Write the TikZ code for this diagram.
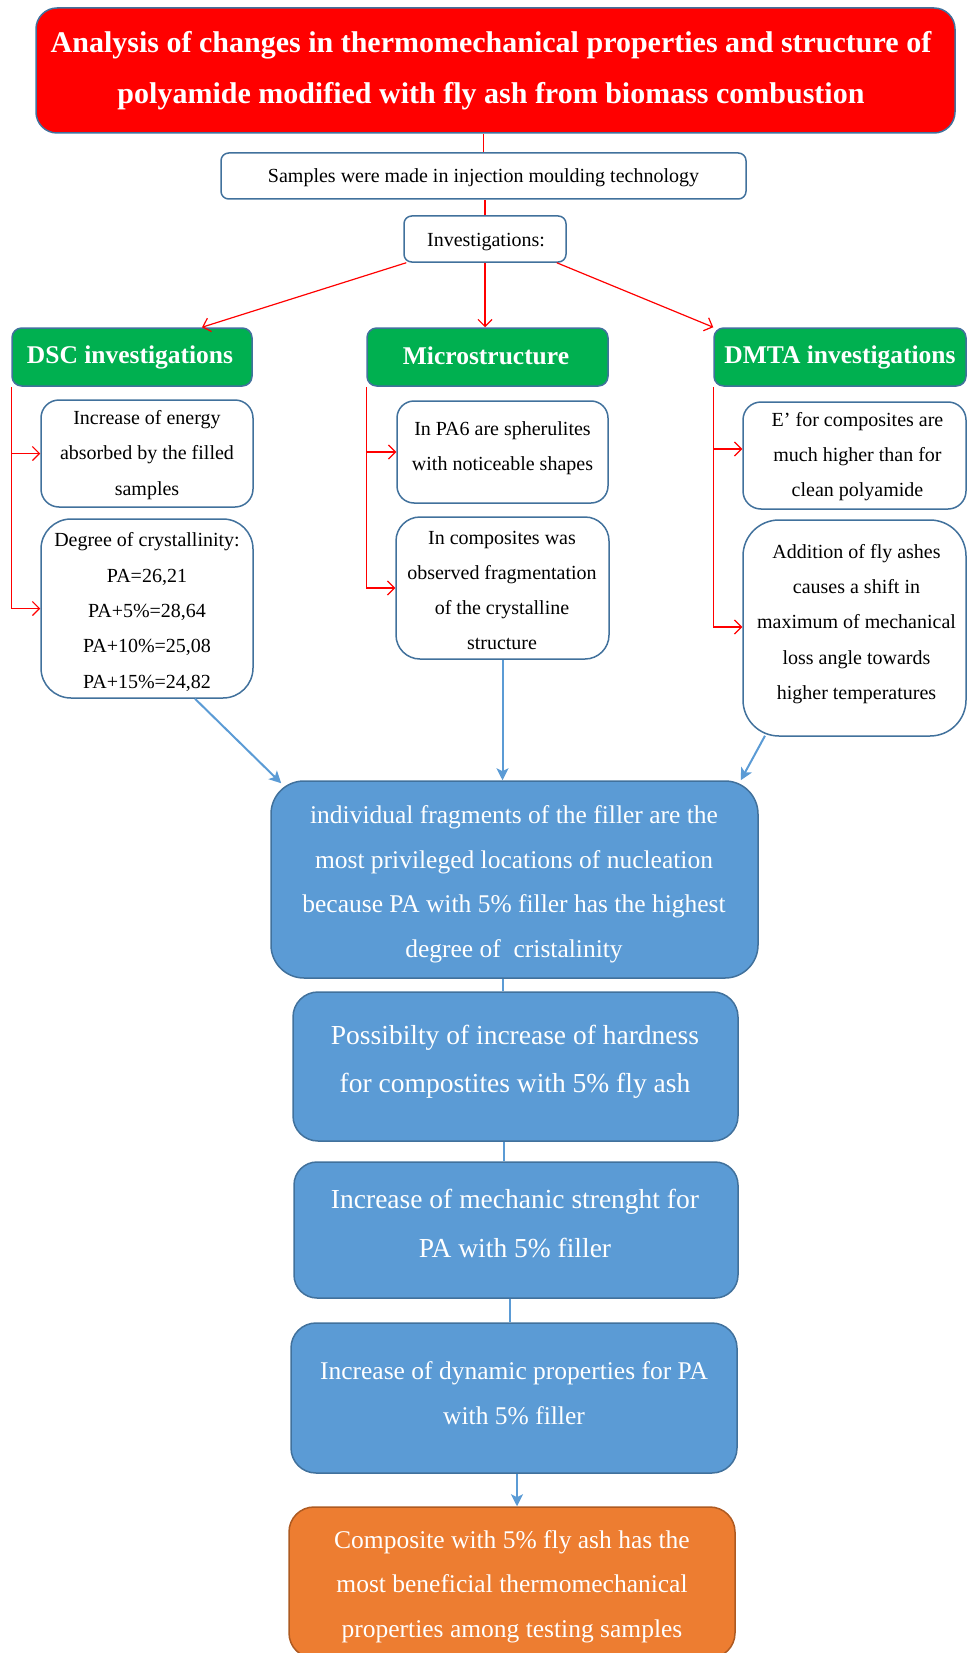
\documentclass[tikz,border=0pt]{standalone}
\usepackage{fontspec}
\setmainfont{Liberation Serif}
\usetikzlibrary{arrows.meta}
\definecolor{bordblue}{HTML}{41719C}
\definecolor{fillblue}{HTML}{5B9BD5}
\definecolor{grn}{HTML}{00B050}
\definecolor{org}{HTML}{ED7D31}
\definecolor{orgborder}{HTML}{AE5A21}
\definecolor{redc}{HTML}{FF0000}
\tikzset{
  box/.style={draw=bordblue, line width=1.5pt, inner sep=0pt},
  whitebox/.style={box, fill=white},
  greenbox/.style={box, fill=grn},
  bluebox/.style={box, fill=fillblue},
  sz/.style 2 args={minimum width=#1pt, minimum height=#2pt},
  rc/.style={rounded corners=#1pt},
  titletxt/.style={align=center, inner sep=0pt, text=white, font=\bfseries\fontsize{30}{51}\selectfont},
  headtxt/.style={align=center, inner sep=0pt, text=white, font=\bfseries\fontsize{25.5}{30}\selectfont},
  smalltxt/.style={align=center, inner sep=0pt, font=\fontsize{20}{35.3}\selectfont},
  bluetxt/.style={align=center, inner sep=0pt, text=white, font=\fontsize{25.5}{44.5}\selectfont},
  bigbluetxt/.style={align=center, inner sep=0pt, text=white, font=\fontsize{27.5}{48.5}\selectfont},
  redline/.style={draw=redc, line width=1.2pt},
  redarrow/.style={redline, -{Straight Barb[length=7pt,width=14pt]}},
  blueline/.style={draw=fillblue, line width=2pt},
  bluearrow/.style={blueline, -{Stealth[length=12pt,width=12pt,inset=3pt]}}
}
\begin{document}
\begin{tikzpicture}[x=1pt,y=-1pt]
\useasboundingbox (0,0) rectangle (967,1653);

% title
\node[box, fill=redc, rc=21, sz={919}{125}] (title) at (495.5,70.5) {};
\node[titletxt] (titleT) at (491,71) {Analysis of changes in thermomechanical properties and structure of\\polyamide modified with fly ash from biomass combustion};

% samples / investigations
\node[whitebox, rc=7.7, sz={525}{46}] (samples) at (483.5,176) {};
\node[smalltxt] (samplesT) at (483.5,178) {Samples were made in injection moulding technology};
\node[whitebox, rc=7.7, sz={162}{46}] (invest) at (485,239) {};
\node[smalltxt] (investT) at (486,242) {Investigations:};

% green headers
\node[greenbox, rc=9.7, sz={240}{58}] (dsc) at (132,357) {};
\node[headtxt] (dscT) at (130,357) {DSC investigations};
\node[greenbox, rc=9.7, sz={241}{58}] (micro) at (487.5,357) {};
\node[headtxt] (microT) at (486,356) {Microstructure};
\node[greenbox, rc=9.7, sz={252}{58}] (dmta) at (840,357) {};
\node[headtxt] (dmtaT) at (840,357) {DMTA investigations};

% DSC column
\node[whitebox, rc=18, sz={212}{107}] (dsc1) at (147,453.5) {};
\node[smalltxt] (dsc1T) at (147,455) {Increase of energy\\absorbed by the filled\\samples};
\node[whitebox, rc=30, sz={212}{179}] (dsc2) at (147,608.5) {};
\node[smalltxt] (dsc2T) at (147,612) {Degree of crystallinity:\\PA=26,21\\PA+5\%=28,64\\PA+10\%=25,08\\PA+15\%=24,82};

% Microstructure column
\node[whitebox, rc=17, sz={211}{102}] (mic1) at (502.5,452) {};
\node[smalltxt] (mic1T) at (502.5,448) {In PA6 are spherulites\\with noticeable shapes};
\node[whitebox, rc=24, sz={213}{142}] (mic2) at (502.5,588) {};
\node[smalltxt] (mic2T) at (502,590.5) {In composites was\\observed fragmentation\\of the crystalline\\structure};

% DMTA column
\node[whitebox, rc=18, sz={223}{107}] (dmta1) at (854.5,455.5) {};
\node[smalltxt] (dmta1T) at (857.5,456.5) {E’ for composites are\\much higher than for\\clean polyamide};
\node[whitebox, rc=36, sz={223}{216}] (dmta2) at (854.5,628) {};
\node[smalltxt] (dmta2T) at (856.5,624) {Addition of fly ashes\\causes a shift in\\maximum of mechanical\\loss angle towards\\higher temperatures};

% blue chain
\node[bluebox, rc=33, sz={487}{197}] (blue1) at (514.5,879.5) {};
\node[bluetxt] (blue1T) at (514,884.5) {individual fragments of the filler are the\\most privileged locations of nucleation\\because PA with 5\% filler has the highest\\degree of~ cristalinity};
\node[bluebox, rc=25, sz={445}{149}] (blue2) at (515.5,1066.5) {};
\node[bigbluetxt] (blue2T) at (515,1062) {Possibilty of increase of hardness\\for compostites with 5\% fly ash};
\node[bluebox, rc=23, sz={444}{136}] (blue3) at (516,1230) {};
\node[bigbluetxt] (blue3T) at (515,1223.5) {Increase of mechanic strenght for\\PA with 5\% filler};
\node[bluebox, rc=25, sz={446}{150}] (blue4) at (514,1398) {};
\node[bluetxt, font=\fontsize{25.5}{45}\selectfont] (blue4T) at (514,1393.5) {Increase of dynamic properties for PA\\with 5\% filler};
\node[box, draw=orgborder, fill=org, rc=25, sz={446}{151}] (orange) at (512,1582.5) {};
\node[bluetxt] (orangeT) at (512,1586.5) {Composite with 5\% fly ash has the\\most beneficial thermomechanical\\properties among testing samples};

% red connectors
\draw[redline] (samples.north) -- (samples.north |- title.south);
\draw[redline] (invest.north) -- (invest.north |- samples.south);
\draw[redarrow] ([xshift=3pt]invest.south west) -- ([xshift=70pt]dsc.north);
\draw[redarrow] (invest.south) -- (invest.south |- micro.north);
\draw[redarrow] ([xshift=-10pt]invest.south east) -- (dmta.north west);

\draw[redarrow] (dsc.south west) |- (dsc2.west);
\draw[redarrow] (dsc.south west |- dsc1.west) -- (dsc1.west);
\draw[redarrow] (micro.south west) |- (mic2.west);
\draw[redarrow] (micro.south west |- mic1.west) -- (mic1.west);
\coordinate (d1a) at ([yshift=6.5pt]dmta1.west);
\coordinate (d2a) at ([yshift=1pt]dmta2.west);
\draw[redarrow] (dmta.south west) |- (d2a);
\draw[redarrow] (dmta.south west |- d1a) -- (d1a);

% blue connectors
\draw[bluearrow] ([xshift=48pt]dsc2.south) -- ([xshift=11pt,yshift=-3pt]blue1.north west);
\draw[bluearrow] (mic2.south) -- (mic2.south |- blue1.north);
\draw[bluearrow] ([xshift=-89.5pt,yshift=1pt]dmta2.south) -- ([xshift=-18pt]blue1.north east);
\draw[blueline] ([xshift=-11.5pt]blue1.south) -- ([xshift=-11.5pt]blue1.south |- blue2.north);
\draw[blueline] ([xshift=-11.5pt]blue2.south) -- ([xshift=-11.5pt]blue2.south |- blue3.north);
\draw[blueline] ([xshift=-6pt]blue3.south) -- ([xshift=-6pt]blue3.south |- blue4.north);
\draw[bluearrow] ([xshift=3pt]blue4.south) -- ([xshift=3pt]blue4.south |- orange.north);
\end{tikzpicture}
\end{document}
